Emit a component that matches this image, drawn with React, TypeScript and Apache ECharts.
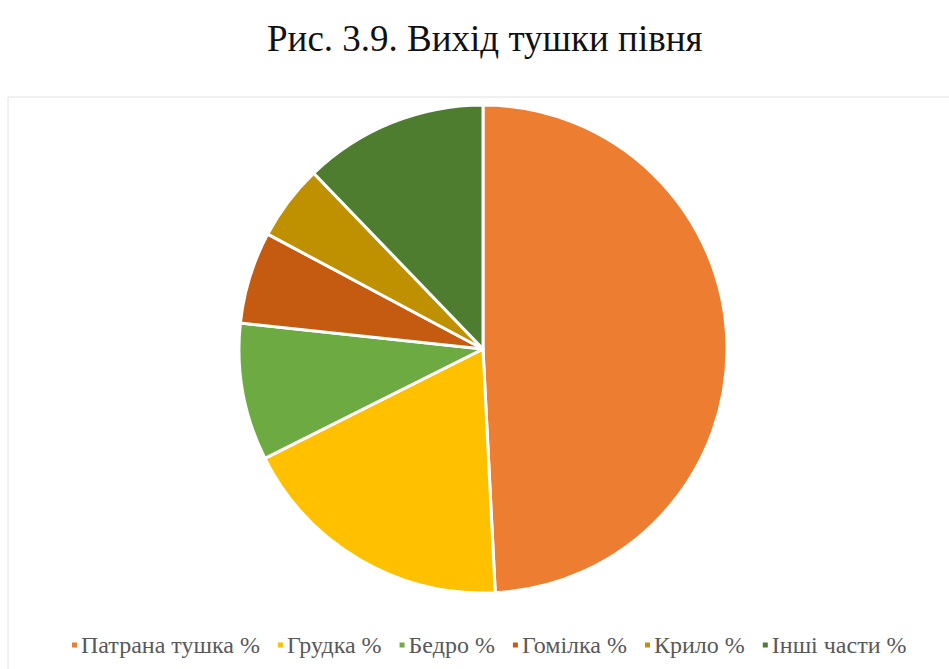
import React, { useEffect, useRef } from "react";
import * as echarts from "echarts";

const categories = ["Патрана тушка %", "Грудка %", "Бедро %", "Гомілка %", "Крило %", "Інші части %"];
const values = [49.2, 18.4, 9.1, 6.1, 5.0, 12.2];
const colors = ["#ED7D31", "#FFC000", "#6DAA42", "#C55A11", "#BF9000", "#4F7D30"];
const titleText = "Рис. 3.9. Вихід тушки півня";
const serif = "'Liberation Serif', 'Times New Roman', serif";

export default function App() {
  const ref = useRef<HTMLDivElement>(null);
  useEffect(() => {
    document.body.style.margin = "0";
    const chart = echarts.init(ref.current!, null, { renderer: "svg" });
    chart.setOption({
      animation: false,
      backgroundColor: "#ffffff",
      title: {
        text: titleText,
        left: 262,
        top: 15,
        textStyle: { fontFamily: serif, fontSize: 37, fontWeight: "normal", color: "#111" },
      },
      graphic: [
        { type: "line", shape: { x1: 8, y1: 97, x2: 949, y2: 97 }, style: { stroke: "#e2e2e2", lineWidth: 1 } },
        { type: "line", shape: { x1: 8, y1: 97, x2: 8, y2: 669 }, style: { stroke: "#e2e2e2", lineWidth: 1 } },
      ],
      legend: {
        bottom: 7,
        left: 65,
        icon: "rect",
        itemWidth: 7,
        itemHeight: 7,
        itemGap: 16,
        textStyle: { fontFamily: serif, fontSize: 24, color: "#595959", padding: [0, 0, 0, -2] },
        data: categories,
      },
      series: [
        {
          type: "pie",
          center: [483, 349],
          radius: 244,
          startAngle: 90,
          clockwise: true,
          label: { show: false },
          labelLine: { show: false },
          itemStyle: { borderColor: "#ffffff", borderWidth: 3 },
          data: categories.map((c, i) => ({ name: c, value: values[i], itemStyle: { color: colors[i] } })),
        },
      ],
    });
    return () => chart.dispose();
  }, []);
  return <div ref={ref} style={{ width: 949, height: 669 }} />;
}
